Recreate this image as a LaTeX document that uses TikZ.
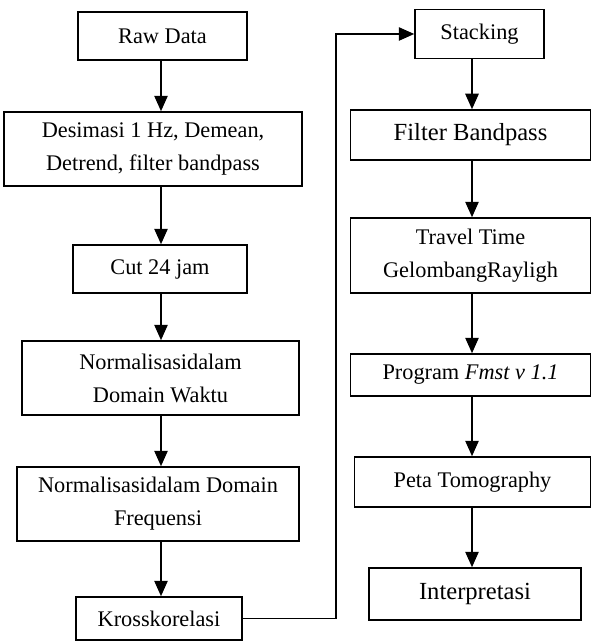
\documentclass[tikz,border=0pt]{standalone}
\usepackage{fontspec}
\setmainfont{Liberation Serif}
\usetikzlibrary{arrows.meta}

\tikzset{
    kotak/.style={draw, line width=0.9pt, inner sep=0pt, align=center,
        font=\fontsize{12.7pt}{18.8pt}\selectfont},
    besar/.style={font=\fontsize{14pt}{18pt}\selectfont},
    panah/.style={line width=0.9pt, -{Triangle[width=7.6pt,length=8.8pt]}}
}

\begin{document}
\begin{tikzpicture}[x=0.02cm, y=-0.02cm]
    \useasboundingbox (0,0) rectangle (592,641);

    % Kolom kiri
    \begin{scope}
        \node[kotak, minimum width=3.38cm, minimum height=0.96cm] (raw) at (162.5,36) {Raw Data};
        \node[kotak, minimum width=5.96cm, minimum height=1.48cm] (desimasi) at (153,149) {Desimasi 1 Hz, Demean,\\Detrend, filter bandpass};
        \node[kotak, minimum width=3.48cm, minimum height=0.96cm] (cut) at (160,269) {Cut 24 jam};
        \node[kotak, minimum width=5.54cm, minimum height=1.48cm] (waktu) at (160.5,378) {Normalisasidalam\\Domain Waktu};
        \node[kotak, minimum width=5.64cm, minimum height=1.48cm] (frek) at (158,504) {Normalisasidalam Domain\\Frequensi};
        \node[kotak, minimum width=3.32cm, minimum height=0.86cm] (kross) at (159,618.5) {Krosskorelasi};
    \end{scope}

    % Kolom kanan
    \begin{scope}
        \node[kotak, minimum width=2.58cm, minimum height=0.98cm] (stacking) at (479.5,34) {Stacking};
        \node[kotak, besar, minimum width=4.80cm, minimum height=1.00cm] (filter) at (470.5,135) {Filter Bandpass};
        \node[kotak, minimum width=4.80cm, minimum height=1.50cm] (travel) at (470.5,255.5) {Travel Time\\GelombangRayligh};
        \node[kotak, minimum width=4.80cm, minimum height=0.84cm] (program) at (470.5,375) {Program \textit{Fmst v 1.1}};
        \node[kotak, minimum width=4.72cm, minimum height=1.00cm] (peta) at (472.5,482) {Peta Tomography};
        \node[kotak, besar, minimum width=4.24cm, minimum height=1.04cm] (interp) at (475,594) {Interpretasi};
    \end{scope}

    % Panah
    \coordinate (kiri) at (161,0);
    \coordinate (kanan) at (472,0);
    \foreach \a/\b in {raw/desimasi, desimasi/cut, cut/waktu, waktu/frek, frek/kross}
        \draw[panah] (kiri |- \a.south) -- (kiri |- \b.north);
    \foreach \a/\b in {stacking/filter, filter/travel, travel/program, program/peta, peta/interp}
        \draw[panah] (kanan |- \a.south) -- (kanan |- \b.north);

    % Krosskorelasi ke Stacking
    \coordinate (naik) at (336,34);
    \draw[panah] (kross.east) -| (naik) |- (stacking.west);
\end{tikzpicture}
\end{document}
